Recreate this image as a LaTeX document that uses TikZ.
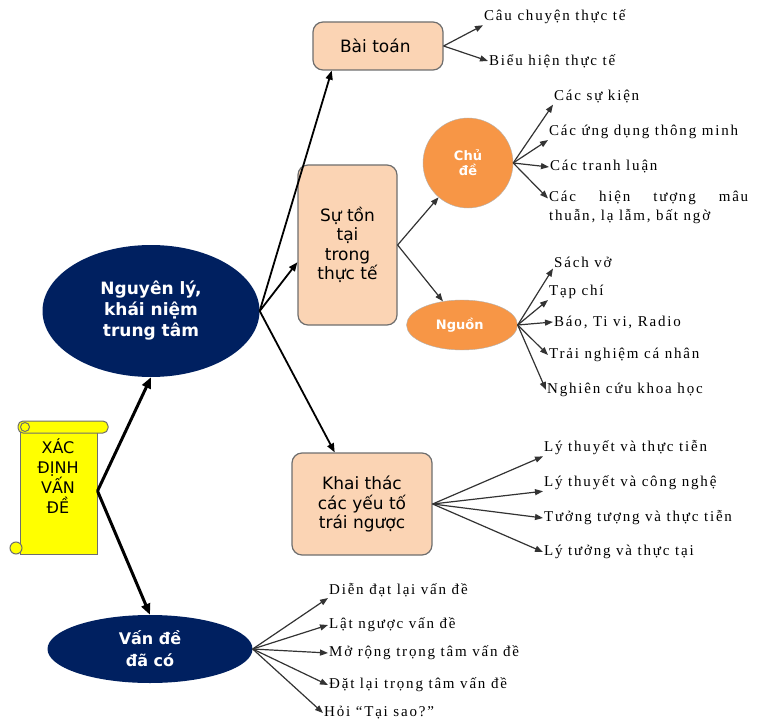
\documentclass[tikz,border=0pt]{standalone}
\usepackage{fontspec}
\setmainfont{Liberation Serif}[LetterSpace=12]
\newfontfamily\boxfont{DejaVu Sans}
\usetikzlibrary{shapes.geometric,arrows.meta}
\definecolor{navyblue}{RGB}{0,32,96}
\definecolor{peach}{RGB}{251,212,180}
\definecolor{accentorange}{RGB}{247,150,70}
\definecolor{scrollyellow}{RGB}{255,255,0}
\definecolor{edgegray}{RGB}{110,110,110}

\begin{document}
\begin{tikzpicture}[x=1pt,y=-1pt,
    scrollbody/.style={draw=edgegray, line width=1pt, fill=scrollyellow, minimum width=77pt, minimum height=126pt, inner sep=0pt},
    scrolltext/.style={align=center, inner sep=0pt, font=\boxfont\fontsize{16}{20}\selectfont},
    topicbox/.style={draw=edgegray, line width=1.2pt, fill=peach, rounded corners=10pt, align=center, inner sep=0pt, font=\boxfont\fontsize{17}{19.5}\selectfont},
    blueblob/.style={ellipse, fill=navyblue, text=white, align=center, inner sep=0pt, font=\boxfont\bfseries\fontsize{17}{21}\selectfont},
    orangeblob/.style={fill=accentorange, draw=gray!60, text=white, align=center, inner sep=0pt, font=\boxfont\bfseries\fontsize{13}{15}\selectfont},
    leaf/.style={anchor=west, inner sep=1pt, align=left, font=\fontsize{15}{19}\selectfont},
    rootarrow/.style={-{Triangle[length=11pt,width=9pt]}, line width=3pt},
    mainarrow/.style={-{Triangle[length=9pt,width=7pt]}, line width=1.8pt},
    leafarrow/.style={-{Triangle[length=8pt,width=6pt]}, line width=1.2pt, draw=black!80}]
        \useasboundingbox (0,0) rectangle (757,722);
        \node[scrollbody] (XacDinh) at (58.5,491) {};
        \filldraw[fill=scrollyellow, draw=edgegray, line width=1pt, rounded corners=5pt] (18,421) rectangle (108,433);
        \filldraw[fill=scrollyellow, draw=edgegray, line width=1pt] (25,427) circle (4.5pt);
        \filldraw[fill=scrollyellow, draw=edgegray, line width=1pt] (16,548) circle (6pt);
        \node[scrolltext] (XacDinhText) at (58,476) {
            XÁC\\ĐỊNH\\VẤN\\ĐỀ
        };
        \node[blueblob, minimum width=217pt, minimum height=132pt] (NguyenLy) at (151,311) {
            Nguyên lý,\\khái niệm\\trung tâm
        };
        \node[blueblob, minimum width=205pt, minimum height=68pt, font=\boxfont\bfseries\fontsize{16}{22}\selectfont] (VanDe) at (150,649) {
            Vấn đề\\đã có
        };
        \node[topicbox, minimum width=130pt, minimum height=48pt] (BaiToan) at (378,46) {
            Bài toán
        };
        \node[topicbox, minimum width=99pt, minimum height=160pt] (SuTonTai) at (347.5,245) {
            Sự tồn\\tại\\trong\\thực tế
        };
        \node[topicbox, minimum width=140pt, minimum height=102pt] (KhaiThac) at (362,504) {
            Khai thác\\các yếu tố\\trái ngược
        };
        \node[orangeblob, circle, minimum size=90pt] (ChuDe) at (468,163) {
            Chủ\\đề
        };
        \node[orangeblob, ellipse, minimum width=111pt, minimum height=50pt] (Nguon) at (462,325) {
            Nguồn
        };
        \node[leaf] (CauChuyen) at (483,17) {Câu chuyện thực tế};
        \node[leaf] (BieuHien) at (488,61) {Biểu hiện thực tế};
        \node[leaf] (SuKien) at (553,97) {Các sự kiện};
        \node[leaf] (UngDung) at (548,132) {Các ứng dụng thông minh};
        \node[leaf] (TranhLuan) at (549,167) {Các tranh luận};
        \node[leaf] (HienTuong) at (548,207.5) {\makebox[199pt][s]{Các hiện tượng mâu}\\thuẫn, lạ lẫm, bất ngờ};
        \node[leaf] (SachVo) at (553,262) {Sách vở};
        \node[leaf] (TapChi) at (548,292) {Tạp chí};
        \node[leaf] (BaoTivi) at (553,322) {Báo, Ti vi, Radio};
        \node[leaf] (TraiNghiem) at (548,355) {Trải nghiệm cá nhân};
        \node[leaf] (NghienCuu) at (546,390) {Nghiên cứu khoa học};
        \node[leaf] (LyThuyetThucTien) at (543,448) {Lý thuyết và thực tiễn};
        \node[leaf] (LyThuyetCongNghe) at (543,483) {Lý thuyết và công nghệ};
        \node[leaf] (TuongTuong) at (543,518) {Tưởng tượng và thực tiễn};
        \node[leaf] (LyTuong) at (543,552) {Lý tưởng và thực tại};
        \node[leaf] (DienDat) at (328,590) {Diễn đạt lại vấn đề};
        \node[leaf] (LatNguoc) at (328,625) {Lật ngược vấn đề};
        \node[leaf] (MoRong) at (328,653) {Mở rộng trọng tâm vấn đề};
        \node[leaf] (DatLai) at (328,685) {Đặt lại trọng tâm vấn đề};
        \node[leaf] (HoiTaiSao) at (323,713) {Hỏi “Tại sao?”};
        \draw[rootarrow] (XacDinh.east) to (NguyenLy.south);
        \draw[rootarrow] (XacDinh.east) to (VanDe.north);
        \draw[mainarrow] (NguyenLy.east) to (BaiToan.208);
        \draw[mainarrow] (NguyenLy.east) to (SuTonTai.199);
        \draw[mainarrow] (NguyenLy.east) to (KhaiThac);
        \draw[leafarrow] (SuTonTai.east) to (ChuDe);
        \draw[leafarrow] (SuTonTai.east) to (Nguon);
        \draw[leafarrow] (BaiToan.east) to (CauChuyen.south west);
        \draw[leafarrow] (BaiToan.east) to (BieuHien.west);
        \draw[leafarrow] (ChuDe.east) to (SuKien.south west);
        \draw[leafarrow] (ChuDe.east) to (UngDung.south west);
        \draw[leafarrow] (ChuDe.east) to (TranhLuan.west);
        \draw[leafarrow] (ChuDe.east) to ([yshift=9pt]HienTuong.west);
        \draw[leafarrow] (Nguon.east) to (SachVo.south west);
        \draw[leafarrow] (Nguon.east) to (TapChi.south west);
        \draw[leafarrow] (Nguon.east) to (BaoTivi.west);
        \draw[leafarrow] (Nguon.east) to (TraiNghiem.west);
        \draw[leafarrow] (Nguon.east) to (NghienCuu.west);
        \draw[leafarrow] (KhaiThac.east) to (LyThuyetThucTien.south west);
        \draw[leafarrow] (KhaiThac.east) to (LyThuyetCongNghe.south west);
        \draw[leafarrow] (KhaiThac.east) to (TuongTuong.west);
        \draw[leafarrow] (KhaiThac.east) to (LyTuong.west);
        \draw[leafarrow] (VanDe.east) to (DienDat.south west);
        \draw[leafarrow] (VanDe.east) to (LatNguoc.west);
        \draw[leafarrow] (VanDe.east) to (MoRong.west);
        \draw[leafarrow] (VanDe.east) to (DatLai.west);
        \draw[leafarrow] (VanDe.east) to (HoiTaiSao.west);
\end{tikzpicture}
\end{document}
